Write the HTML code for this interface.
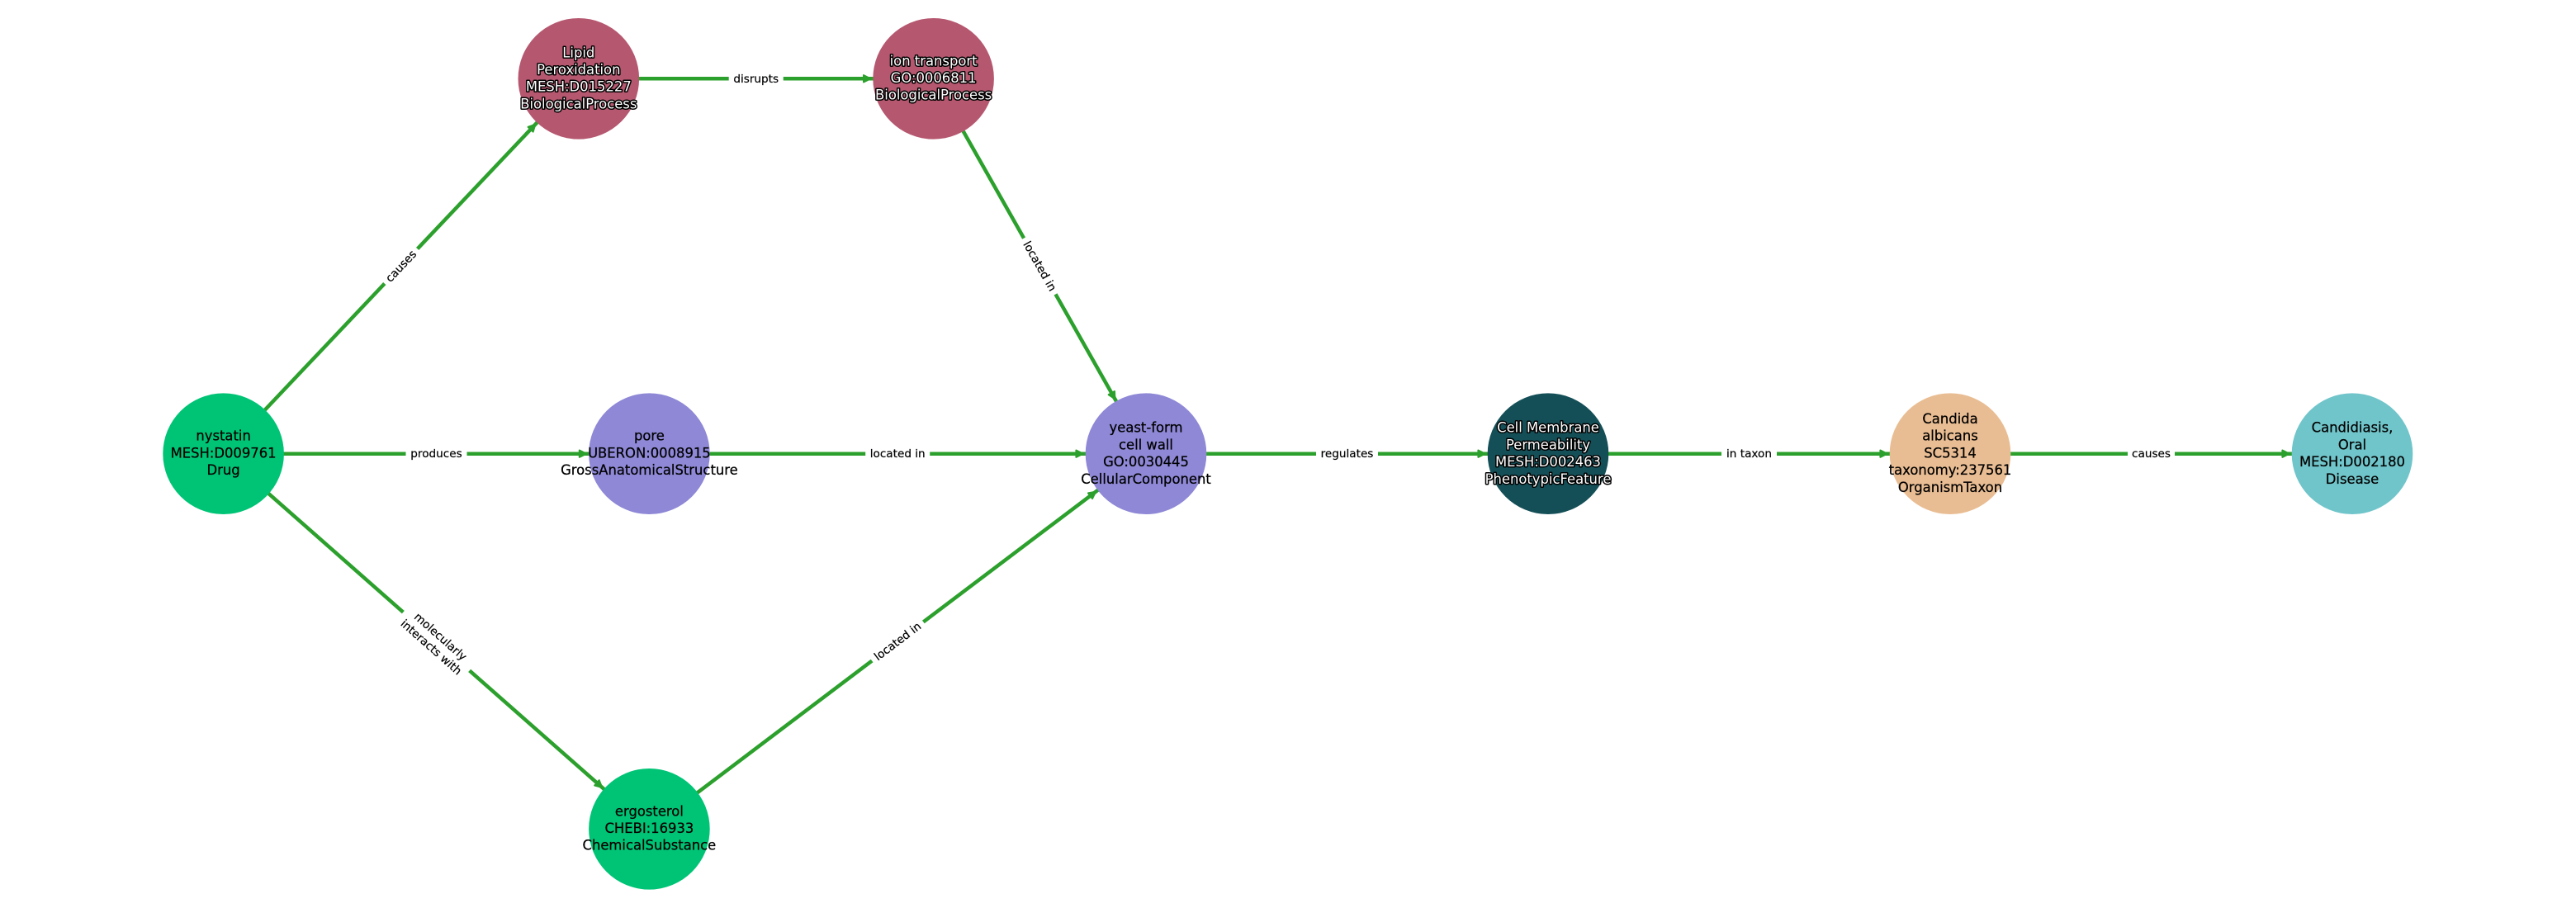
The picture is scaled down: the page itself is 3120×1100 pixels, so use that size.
<!DOCTYPE html>
<html>
<head>
<meta charset="utf-8">
<style>
html,body{margin:0;padding:0;background:#fff;width:3120px;height:1100px;overflow:hidden}
svg{display:block}
text{font-family:"DejaVu Sans","Liberation Sans",sans-serif}
.n{font-size:16.4px;text-anchor:middle;fill:#000;stroke:#000;stroke-width:.25px}
.w{font-size:16.4px;text-anchor:middle;fill:#fff;stroke:#000;stroke-width:3px;paint-order:stroke;stroke-linejoin:round}
.e{font-size:13.6px;text-anchor:middle;fill:#000;stroke:#000;stroke-width:.2px}
.l{stroke:#2ca02c;stroke-width:4.5;fill:none}
.h{fill:#2ca02c;stroke:#2ca02c;stroke-width:2;stroke-linejoin:round}
</style>
</head>
<body>
<svg width="3120" height="1100" viewBox="0 0 3120 1100" xmlns="http://www.w3.org/2000/svg">
<rect width="3120" height="1100" fill="#fff"/>

<!-- edges -->
<line class="l" x1="270.6" y1="549.7" x2="700.8" y2="95.3"/>
<line class="l" x1="700.8" y1="95.3" x2="1130.6" y2="95.3"/>
<line class="l" x1="1130.6" y1="95.3" x2="1388" y2="549.7"/>
<line class="l" x1="270.6" y1="549.7" x2="786.4" y2="549.7"/>
<line class="l" x1="786.4" y1="549.7" x2="1388" y2="549.7"/>
<line class="l" x1="270.6" y1="549.7" x2="786.4" y2="1004.3"/>
<line class="l" x1="786.4" y1="1004.3" x2="1388" y2="549.7"/>
<line class="l" x1="1388" y1="549.7" x2="1875" y2="549.7"/>
<line class="l" x1="1875" y1="549.7" x2="2362" y2="549.7"/>
<line class="l" x1="2362" y1="549.7" x2="2849" y2="549.7"/>

<!-- nodes -->
<circle cx="270.6" cy="549.7" r="73.3" fill="#00c475"/>
<circle cx="700.8" cy="95.3" r="73.3" fill="#b5576f"/>
<circle cx="1130.6" cy="95.3" r="73.3" fill="#b5576f"/>
<circle cx="786.4" cy="549.7" r="73.3" fill="#8e88d6"/>
<circle cx="786.4" cy="1004.3" r="73.3" fill="#00c475"/>
<circle cx="1388" cy="549.7" r="73.3" fill="#8e88d6"/>
<circle cx="1875" cy="549.7" r="73.3" fill="#144f57"/>
<circle cx="2362" cy="549.7" r="73.3" fill="#e9bd93"/>
<circle cx="2849" cy="549.7" r="73.3" fill="#70c5ca"/>

<!-- arrowheads -->
<g transform="translate(700.8,95.3) rotate(-46.57)"><polygon class="h" points="-76.3,0 -84.6,-4.2 -84.6,4.2"/></g>
<g transform="translate(1130.6,95.3)"><polygon class="h" points="-76.3,0 -84.6,-4.2 -84.6,4.2"/></g>
<g transform="translate(1388,549.7) rotate(60.47)"><polygon class="h" points="-76.3,0 -84.6,-4.2 -84.6,4.2"/></g>
<g transform="translate(786.4,549.7)"><polygon class="h" points="-76.3,0 -84.6,-4.2 -84.6,4.2"/></g>
<g transform="translate(1388,549.7)"><polygon class="h" points="-76.3,0 -84.6,-4.2 -84.6,4.2"/></g>
<g transform="translate(786.4,1004.3) rotate(41.39)"><polygon class="h" points="-76.3,0 -84.6,-4.2 -84.6,4.2"/></g>
<g transform="translate(1388,549.7) rotate(-37.07)"><polygon class="h" points="-76.3,0 -84.6,-4.2 -84.6,4.2"/></g>
<g transform="translate(1875,549.7)"><polygon class="h" points="-76.3,0 -84.6,-4.2 -84.6,4.2"/></g>
<g transform="translate(2362,549.7)"><polygon class="h" points="-76.3,0 -84.6,-4.2 -84.6,4.2"/></g>
<g transform="translate(2849,549.7)"><polygon class="h" points="-76.3,0 -84.6,-4.2 -84.6,4.2"/></g>

<!-- edge labels -->
<g transform="translate(485.7,322.5) rotate(-46.57)"><rect x="-29" y="-12" width="58" height="24" fill="#fff"/><text class="e" y="4.5">causes</text></g>
<g transform="translate(915.7,95.3)"><rect x="-33" y="-12" width="66" height="24" fill="#fff"/><text class="e" y="4.5">disrupts</text></g>
<g transform="translate(1259.3,322.5) rotate(60.47)"><rect x="-39" y="-12" width="78" height="24" fill="#fff"/><text class="e" y="4.5">located in</text></g>
<g transform="translate(528.5,549.7)"><rect x="-37" y="-12" width="74" height="24" fill="#fff"/><text class="e" y="4.5">produces</text></g>
<g transform="translate(1087.2,549.7)"><rect x="-39" y="-12" width="78" height="24" fill="#fff"/><text class="e" y="4.5">located in</text></g>
<g transform="translate(528.5,777) rotate(41.39)"><rect x="-53.5" y="-21" width="107" height="42" fill="#fff"/><text class="e" y="-3">molecularly</text><text class="e" y="14">interacts with</text></g>
<g transform="translate(1087.2,777) rotate(-37.07)"><rect x="-39" y="-12" width="78" height="24" fill="#fff"/><text class="e" y="4.5">located in</text></g>
<g transform="translate(1631.5,549.7)"><rect x="-37.5" y="-12" width="75" height="24" fill="#fff"/><text class="e" y="4.5">regulates</text></g>
<g transform="translate(2118.5,549.7)"><rect x="-33.5" y="-12" width="67" height="24" fill="#fff"/><text class="e" y="4.5">in taxon</text></g>
<g transform="translate(2605.5,549.7)"><rect x="-28.5" y="-12" width="57" height="24" fill="#fff"/><text class="e" y="4.5">causes</text></g>

<!-- node labels -->
<g transform="translate(0,-1)">
<text class="n" x="270.6" y="534.7">nystatin</text>
<text class="n" x="270.6" y="555.4">MESH:D009761</text>
<text class="n" x="270.6" y="576.1">Drug</text>

<text class="w" x="700.8" y="70.3">Lipid</text>
<text class="w" x="700.8" y="91">Peroxidation</text>
<text class="w" x="700.8" y="111.7">MESH:D015227</text>
<text class="w" x="700.8" y="132.4">BiologicalProcess</text>

<text class="w" x="1130.6" y="80.3">ion transport</text>
<text class="w" x="1130.6" y="101">GO:0006811</text>
<text class="w" x="1130.6" y="121.7">BiologicalProcess</text>

<text class="n" x="786.4" y="534.7">pore</text>
<text class="n" x="786.4" y="555.4">UBERON:0008915</text>
<text class="n" x="786.4" y="576.1">GrossAnatomicalStructure</text>

<text class="n" x="786.4" y="989.3">ergosterol</text>
<text class="n" x="786.4" y="1010">CHEBI:16933</text>
<text class="n" x="786.4" y="1030.7">ChemicalSubstance</text>

<text class="n" x="1388" y="524.7">yeast-form</text>
<text class="n" x="1388" y="545.4">cell wall</text>
<text class="n" x="1388" y="566.1">GO:0030445</text>
<text class="n" x="1388" y="586.8">CellularComponent</text>

<text class="w" x="1875" y="524.7">Cell Membrane</text>
<text class="w" x="1875" y="545.4">Permeability</text>
<text class="w" x="1875" y="566.1">MESH:D002463</text>
<text class="w" x="1875" y="586.8">PhenotypicFeature</text>

<text class="n" x="2362" y="514">Candida</text>
<text class="n" x="2362" y="534.7">albicans</text>
<text class="n" x="2362" y="555.4">SC5314</text>
<text class="n" x="2362" y="576.1">taxonomy:237561</text>
<text class="n" x="2362" y="596.8">OrganismTaxon</text>

<text class="n" x="2849" y="524.7">Candidiasis,</text>
<text class="n" x="2849" y="545.4">Oral</text>
<text class="n" x="2849" y="566.1">MESH:D002180</text>
<text class="n" x="2849" y="586.8">Disease</text>
</g>
</svg>
</body>
</html>
